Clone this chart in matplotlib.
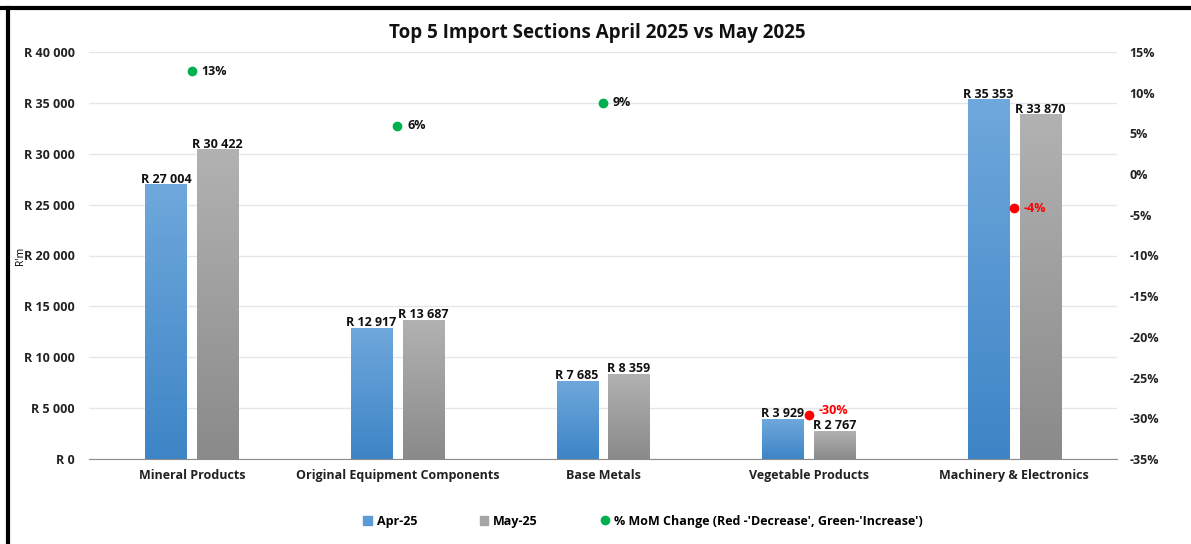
import matplotlib
matplotlib.use("Agg")
import matplotlib.pyplot as plt
import numpy as np
from matplotlib.lines import Line2D
from matplotlib.patches import Patch
from matplotlib.colors import LinearSegmentedColormap

categories = ["Mineral Products", "Original Equipment Components", "Base Metals",
              "Vegetable Products", "Machinery & Electronics"]
apr_values = [27004, 12917, 7685, 3929, 35353]
may_values = [30422, 13687, 8359, 2767, 33870]
mom_change = [12.66, 5.96, 8.77, -29.57, -4.19]
left_ticks = [0, 5000, 10000, 15000, 20000, 25000, 30000, 35000, 40000]
right_ticks = [-35, -30, -25, -20, -15, -10, -5, 0, 5, 10, 15]

plt.rcParams['font.family'] = ['Open Sans', 'DejaVu Sans']

def rand(v):
    return "R " + f"{v:,}".replace(",", " ")

fig = plt.figure(figsize=(11.91, 5.44), dpi=100)
ax = fig.add_axes([89/1191, 1-459/544, (1117-89)/1191, (459-52)/544])
ax2 = ax.twinx()

x = np.arange(len(categories))
w = 0.2
off = 0.126
bars1 = ax.bar(x - off, apr_values, w, color="#5b9bd5", zorder=2)
bars2 = ax.bar(x + off, may_values, w, color="#a5a5a5", zorder=2)

blue_cm = LinearSegmentedColormap.from_list("b", ["#3d85c6", "#6fa8dc"])
gray_cm = LinearSegmentedColormap.from_list("g", ["#8a8a8a", "#b2b2b2"])
grad = np.linspace(0, 1, 256).reshape(-1, 1)
for bars, cm in ((bars1, blue_cm), (bars2, gray_cm)):
    for b in bars:
        bx, by, bw, bh = b.get_x(), b.get_y(), b.get_width(), b.get_height()
        im = ax.imshow(grad, cmap=cm, aspect="auto", origin="lower",
                       extent=[bx, bx + bw, by, by + bh], zorder=2.5)
        im.set_clip_path(b)

for bars, vals in ((bars1, apr_values), (bars2, may_values)):
    for b, v in zip(bars, vals):
        ax.annotate(rand(v), (b.get_x() + b.get_width()/2, v), xytext=(0, -1),
                    textcoords="offset points", ha="center", va="bottom",
                    fontsize=9, fontweight="bold", color="#111111", zorder=4)

ax.set_xlim(-0.5, len(categories) - 0.5)
ax.set_ylim(0, 40000)
ax.set_yticks(left_ticks)
ax.set_yticklabels([rand(t) for t in left_ticks], fontsize=9, fontweight="bold", color="#222222")
ax.set_xticks(x)
ax.set_xticklabels(categories, fontsize=9, fontweight="bold", color="#222222")
ax.tick_params(axis="both", length=0)
ax.tick_params(axis="y", pad=10)
ax.tick_params(axis="x", pad=7)
ax.grid(axis="y", color="#e4e6eb", linewidth=1, zorder=0)
ax.set_axisbelow(True)
for s in ["top", "right", "left"]:
    ax.spines[s].set_visible(False)
ax.spines["bottom"].set_color("#8c8c8c")
ax.set_ylabel("R'm", fontsize=7.5)
ax.yaxis.set_label_coords(-0.061, 0.5)

ax2.set_ylim(-35, 15)
ax2.set_yticks(right_ticks)
ax2.set_yticklabels([f"{t}%" for t in right_ticks], fontsize=9, fontweight="bold", color="#222222")
ax2.tick_params(axis="y", length=0, pad=9)
for s in ["top", "right", "left", "bottom"]:
    ax2.spines[s].set_visible(False)

for xi, m in zip(x, mom_change):
    c = "#00b050" if m >= 0 else "#ff0000"
    ax2.plot(xi, m, "o", color=c, markersize=6, zorder=5)
    ax2.annotate(f"{round(m):d}%", (xi, m), xytext=(7, 0 if m > -20 else 3),
                 textcoords="offset points", ha="left", va="center", fontsize=9,
                 fontweight="bold", color="#111111" if m >= 0 else "#ff0000", zorder=5)

fig.suptitle("Top 5 Import Sections April 2025 vs May 2025", x=597/1191, y=1-33/544,
             va="center", fontsize=13.5, fontweight="bold", color="#111111")

handles = [Patch(color="#5b9bd5"), Patch(color="#a5a5a5"),
           Line2D([], [], marker="o", linestyle="none", color="#00b050", markersize=6)]
labels = ["Apr-25", "May-25", "% MoM Change (Red -'Decrease', Green-'Increase')"]
fig.legend(handles, labels, loc="center", bbox_to_anchor=(643/1191, 1-521/544), ncol=3,
           frameon=False, handlelength=0.7, handleheight=0.7,
           columnspacing=5, handletextpad=0.4, prop={"weight": "bold", "size": 9})

fig.add_artist(Line2D([0, 1], [1-8/544, 1-8/544], color="black", linewidth=3, transform=fig.transFigure))
fig.add_artist(Line2D([8/1191, 8/1191], [0, 1-8/544], color="black", linewidth=3, transform=fig.transFigure))

fig.savefig("out.png", dpi=100)
